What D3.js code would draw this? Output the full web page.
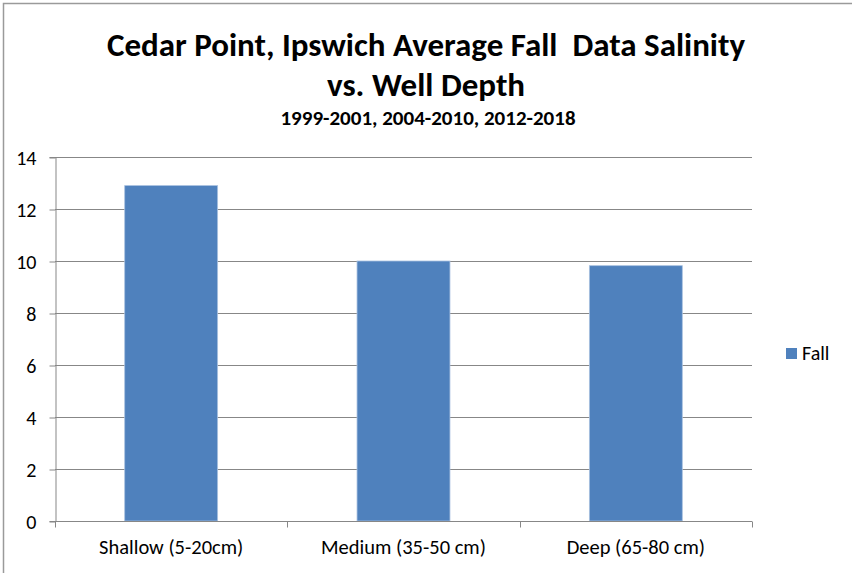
<!DOCTYPE html>
<html>
<head>
<meta charset="utf-8">
<script src="https://cdn.jsdelivr.net/npm/d3@7"></script>
<style>
  html, body { margin: 0; padding: 0; background: #fff; }
  svg { display: block; }
  text { font-family: Carlito, Calibri, Lato, "Open Sans", sans-serif; fill: #000; white-space: pre; }
</style>
</head>
<body>
<svg id="chart" width="852" height="573"></svg>
<script>
const categories = ["Shallow (5-20cm)", "Medium (35-50 cm)", "Deep (65-80 cm)"];
const fallValues = [12.9, 10.0, 9.82];
const yTicks = [0, 2, 4, 6, 8, 10, 12, 14];
const seriesName = "Fall";
const titleLines = ["Cedar Point, Ipswich Average Fall  Data Salinity", "vs. Well Depth"];
const subtitle = "1999-2001, 2004-2010, 2012-2018";

const W = 852, H = 573;
const plot = { left: 55, right: 752, top: 157, bottom: 521 };
const svg = d3.select("#chart");
const FONT = "Carlito, Calibri, Lato, 'Open Sans', sans-serif";

// outer border
svg.append("rect").attr("x", 3.5).attr("y", 3.5).attr("width", W + 10).attr("height", H + 10)
  .attr("fill", "none").attr("stroke", "#9a9a9a").attr("stroke-width", 1.5);

const x = d3.scaleBand().domain(categories).range([plot.left, plot.right]).padding(0);
const y = d3.scaleLinear().domain([0, 14]).range([plot.bottom, plot.top]);

// gridlines
svg.append("g").selectAll("line").data(yTicks.filter(d => d > 0)).join("line")
  .attr("x1", plot.left).attr("x2", plot.right)
  .attr("y1", d => Math.round(y(d)) + 0.5).attr("y2", d => Math.round(y(d)) + 0.5)
  .attr("stroke", "#878787").attr("stroke-width", 1);

// bars
const barW = x.bandwidth() * 0.4;
svg.append("g").selectAll("rect").data(categories).join("rect")
  .attr("x", (d) => x(d) + (x.bandwidth() - barW) / 2)
  .attr("width", barW)
  .attr("y", (d, i) => y(fallValues[i]))
  .attr("height", (d, i) => y(0) - y(fallValues[i]))
  .attr("fill", "#4f81bd").attr("stroke", "#a9c1e0").attr("stroke-width", 0.8);

// y axis
const yAxis = d3.axisLeft(y).tickValues(yTicks).tickSize(6).tickPadding(13).tickFormat(d3.format("d"));
const gy = svg.append("g").attr("transform", `translate(${plot.left + 0.5},0)`).call(yAxis);
gy.attr("font-family", FONT).attr("font-size", 20);
gy.select(".domain").attr("stroke", "#878787");
gy.selectAll(".tick line").attr("stroke", "#878787").attr("transform", "translate(0,0.5)");
gy.selectAll(".tick text").attr("font-size", 20).attr("dy", "0.35em").attr("fill", "#000");

// x axis
const gx = svg.append("g").attr("transform", `translate(0,${plot.bottom + 0.5})`);
gx.append("line").attr("x1", plot.left).attr("x2", plot.right).attr("stroke", "#878787");
const bounds = [plot.left].concat(categories.map(c => x(c) + x.bandwidth()));
gx.selectAll("line.tk").data(bounds).join("line").attr("class", "tk")
  .attr("x1", d => Math.round(d) + 0.5).attr("x2", d => Math.round(d) + 0.5)
  .attr("y1", 0).attr("y2", 6).attr("stroke", "#878787");
gx.selectAll("text").data(categories).join("text")
  .attr("x", d => x(d) + x.bandwidth() / 2).attr("y", 32)
  .attr("text-anchor", "middle").attr("font-size", 20.5).text(d => d);

// titles
svg.append("text").attr("x", 426).attr("y", 56).attr("text-anchor", "middle")
  .attr("font-size", 33).attr("font-weight", "bold").attr("xml:space", "preserve").text(titleLines[0]);
svg.append("text").attr("x", 426).attr("y", 96).attr("text-anchor", "middle")
  .attr("font-size", 33).attr("font-weight", "bold").text(titleLines[1]);
svg.append("text").attr("x", 428).attr("y", 125).attr("text-anchor", "middle")
  .attr("font-size", 21).attr("font-weight", "bold").text(subtitle);

// legend
svg.append("rect").attr("x", 786).attr("y", 348).attr("width", 11).attr("height", 11).attr("fill", "#4f81bd");
svg.append("text").attr("x", 802).attr("y", 360).attr("font-size", 20).text(seriesName);
</script>
</body>
</html>
